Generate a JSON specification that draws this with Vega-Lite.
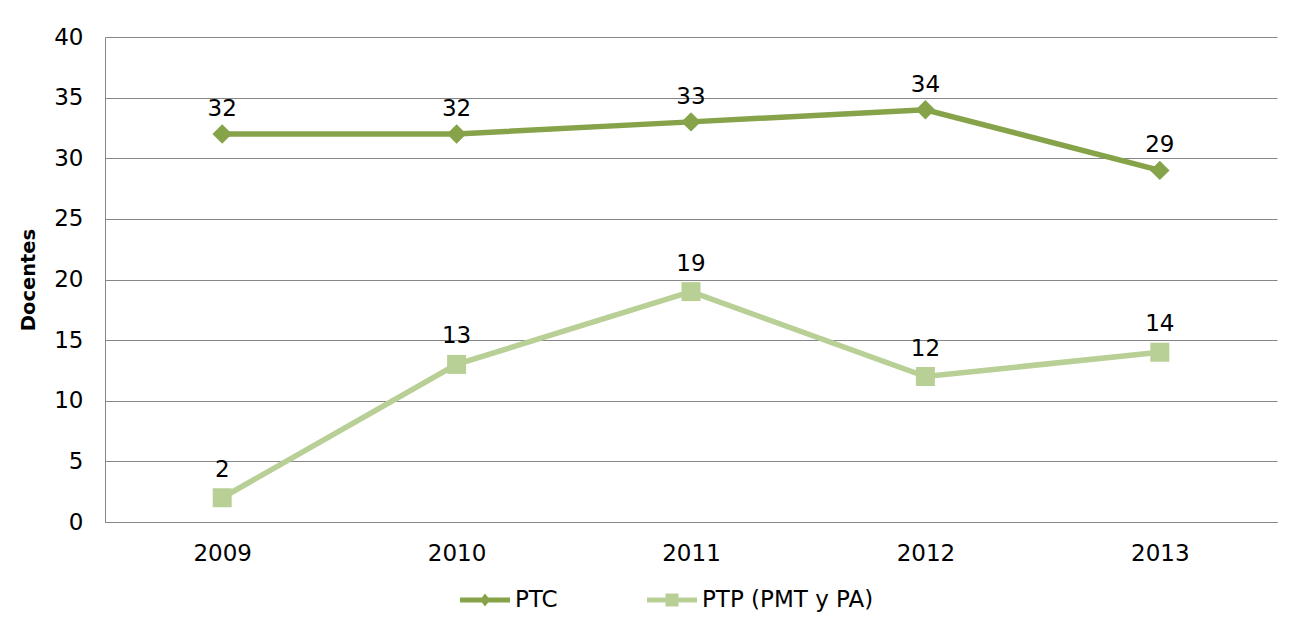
{
  "$schema": "https://vega.github.io/schema/vega-lite/v6.json",
  "autosize": {"type": "none"},
  "width": 1172,
  "height": 485,
  "padding": {"left": 105, "top": 37, "right": 24, "bottom": 102},
  "background": "white",
  "config": {
    "font": "DejaVu Sans",
    "view": {"stroke": null},
    "axis": {"labelColor": "black", "labelFontSize": 23, "labelFont": "DejaVu Sans", "ticks": false, "domainColor": "#868686", "gridColor": "#868686", "gridWidth": 1, "domainWidth": 1}
  },
  "data": {
    "values": [
      {"year": "2009", "series": "PTC", "value": 32},
      {"year": "2010", "series": "PTC", "value": 32},
      {"year": "2011", "series": "PTC", "value": 33},
      {"year": "2012", "series": "PTC", "value": 34},
      {"year": "2013", "series": "PTC", "value": 29},
      {"year": "2009", "series": "PTP (PMT y PA)", "value": 2},
      {"year": "2010", "series": "PTP (PMT y PA)", "value": 13},
      {"year": "2011", "series": "PTP (PMT y PA)", "value": 19},
      {"year": "2012", "series": "PTP (PMT y PA)", "value": 12},
      {"year": "2013", "series": "PTP (PMT y PA)", "value": 14}
    ]
  },
  "encoding": {
    "x": {"field": "year", "type": "ordinal", "scale": {"type": "point", "padding": 0.5}, "axis": {"title": null, "labelAngle": 0, "labelPadding": 20, "grid": false}},
    "y": {"field": "value", "type": "quantitative", "scale": {"domain": [0, 40]}, "axis": {"values": [0, 5, 10, 15, 20, 25, 30, 35, 40], "title": "Docentes", "titleFontSize": 19.5, "titleFontWeight": "bold", "titleColor": "black", "titlePadding": 15, "labelPadding": 22, "grid": true}}
  },
  "layer": [
    {
      "transform": [{"filter": "datum.series == 'PTC'"}],
      "mark": {"type": "line", "strokeWidth": 5.5, "color": "#86A34A"}
    },
    {
      "transform": [{"filter": "datum.series != 'PTC'"}],
      "mark": {"type": "line", "strokeWidth": 5.5, "color": "#B8CF95"}
    },
    {
      "transform": [{"filter": "datum.series == 'PTC'"}],
      "mark": {"type": "point", "filled": true, "opacity": 1, "shape": "diamond", "size": 380, "color": "#86A34A"}
    },
    {
      "transform": [{"filter": "datum.series != 'PTC'"}],
      "mark": {"type": "point", "filled": true, "opacity": 1, "shape": "square", "size": 361, "color": "#B8CF95"}
    },
    {
      "transform": [{"filter": "datum.series == 'PTC'"}],
      "mark": {"type": "text", "fontSize": 23, "dy": -25, "color": "black", "baseline": "middle"},
      "encoding": {"text": {"field": "value", "type": "quantitative"}}
    },
    {
      "transform": [{"filter": "datum.series != 'PTC'"}],
      "mark": {"type": "text", "fontSize": 23, "dy": -28, "color": "black", "baseline": "middle"},
      "encoding": {"text": {"field": "value", "type": "quantitative"}}
    },
    {
      "transform": [{"filter": "datum.value < 0"}],
      "mark": {"type": "point", "filled": true, "opacity": 1, "size": 2500},
      "encoding": {
        "color": {"field": "series", "type": "nominal", "scale": {"domain": ["PTC", "PTP (PMT y PA)"], "range": ["#86A34A", "#B8CF95"]},
          "legend": {"title": null, "orient": "none", "direction": "horizontal", "legendX": 355, "legendY": 538, "labelFontSize": 23, "labelColor": "black", "labelOffset": 5, "labelLimit": 400, "columnPadding": 89, "symbolSize": 2500, "symbolStrokeWidth": 0, "symbolOpacity": 1}},
        "shape": {"field": "series", "type": "nominal", "scale": {"domain": ["PTC", "PTP (PMT y PA)"], "range": ["M-1,-0.1H1V0.1H-1Z M-0.2,0L0,-0.26L0.2,0L0,0.26Z", "M-1,-0.1H1V0.1H-1Z M-0.26,-0.26H0.26V0.26H-0.26Z"]},
          "legend": {"title": null, "orient": "none", "direction": "horizontal", "legendX": 355, "legendY": 538, "labelFontSize": 23, "labelColor": "black", "labelOffset": 5, "labelLimit": 400, "columnPadding": 89, "symbolSize": 2500, "symbolStrokeWidth": 0, "symbolOpacity": 1}}
      }
    }
  ]
}
